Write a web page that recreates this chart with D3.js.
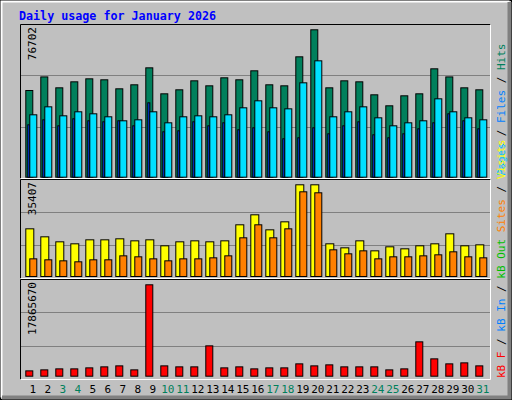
<!DOCTYPE html>
<html><head><meta charset="utf-8">
<script src="https://d3js.org/d3.v7.min.js"></script>
<style>body{margin:0;background:#fff}text{font-family:"DejaVu Sans Mono",monospace}</style>
</head><body><svg id="c" width="512" height="400"></svg>
<script>
const days = d3.range(1,32);
const weekend = [3,4,10,11,17,18,24,25,31];
const hits = [45110,52180,46510,49630,51190,50680,45990,48080,56910,43390,45470,50150,47550,51720,50680,55360,48080,47550,62640,76702,46510,50150,49630,42870,37150,42350,43390,56400,52180,46510,45470];
const files = [32470,36620,31940,34030,32990,31430,29350,29860,34030,28300,31430,31940,31430,32470,36110,39750,36110,35580,49110,60560,31430,34030,36620,30900,26740,28300,29350,40790,34030,30900,29860];
const pages = [27260,29860,26740,30390,29350,28820,29350,26740,38710,23620,24140,28820,26740,28300,24670,25700,23620,19980,20500,25700,22580,26740,28820,22060,20500,22580,25180,28300,32990,29350,25180];
const visits = [18410,15320,13390,12620,14160,14160,14550,13770,14160,11850,13390,13770,13390,13770,19960,23820,18020,21110,35407,35407,12620,11070,13770,9910,11460,10690,11850,12620,16480,11850,12230];
const sites = [6820,6440,6050,5670,6440,6440,7980,7600,6820,6050,6820,6820,7210,7980,14940,19960,14940,18410,32700,32320,10300,8760,9910,6820,7600,7600,7980,8370,9530,7600,7210];
const kbytes = [1043000,1239000,1434000,1434000,1630000,1826000,2021000,1239000,17865670,2021000,1826000,1826000,5933000,1630000,1826000,1434000,1630000,1630000,2413000,2021000,2217000,1826000,1826000,1826000,1239000,1434000,6716000,3391000,2413000,2608000,2021000];
const maxLabels = ["76702","35407","17865670"];

const svg = d3.select("#c");
// frame
svg.append("rect").attr("x",0.5).attr("y",0.5).attr("width",511).attr("height",399).attr("fill","#c0c0c0").attr("stroke","#000");
svg.append("path").attr("d","M1.5,397.5V1.5H509.5").attr("stroke","#fff").attr("stroke-width",2).attr("fill","none");
svg.append("path").attr("d","M2,397.5H509.5V2").attr("stroke","#808080").attr("stroke-width",4).attr("fill","none");
svg.append("text").attr("x",19).attr("y",20).attr("fill","#0000ff").attr("font-weight","bold").attr("font-size","11.7px").text("Daily usage for January 2026");

const x = d3.scaleBand().domain(days).range([22.3,487.3]).paddingInner(0).paddingOuter(0);
const panels = [{top:24,bot:178,base:176.7,maxTop:29.3,max:76702},
                {top:179,bot:278,base:276,maxTop:184.3,max:35407},
                {top:279,bot:379,base:375.7,maxTop:284.3,max:17865670}];
panels.forEach((p,i)=>{
  svg.append("rect").attr("x",20.5).attr("y",p.top+0.5).attr("width",470).attr("height",p.bot-p.top).attr("fill","#c0c0c0");
  const h=p.bot-p.top;
  [1,2].forEach(k=>svg.append("line").attr("x1",21).attr("x2",490).attr("y1",Math.round(p.top+h*k/3)+0.5).attr("y2",Math.round(p.top+h*k/3)+0.5).attr("stroke","#808080"));
  svg.append("path").attr("d",`M20.5,${p.bot+0.5}V${p.top+0.5}H490.5`).attr("stroke","#000").attr("fill","none");
  svg.append("path").attr("d",`M20.5,${p.bot+0.5}H490.5V${p.top+0.5}`).attr("stroke","#fff").attr("fill","none");
  p.y = d3.scaleLinear().domain([0,p.max]).range([p.base,p.maxTop]);
  svg.append("text").attr("transform",`translate(36,${p.top+3}) rotate(-90)`).attr("text-anchor","end").attr("font-size","11px").text(maxLabels[i]);
});
function bars(data,p,off,w,color){
  svg.append("g").selectAll("rect").data(data).join("rect")
   .attr("x",(d,i)=>x(days[i])+3+off+0.5).attr("width",w)
   .attr("y",d=>p.y(d)+0.5).attr("height",d=>p.base-p.y(d))
   .attr("fill",color).attr("stroke","#000");
}
bars(hits,panels[0],0,7,"#00805c");
bars(pages,panels[0],2,2,"#0040ff");
bars(files,panels[0],4,7,"#00e0ff");
bars(visits,panels[1],0,8,"#ffff00");
bars(sites,panels[1],4,7,"#ff8000");
bars(kbytes,panels[2],0,7,"#ff0000");

svg.append("g").selectAll("text").data(days).join("text")
  .attr("x",d=>x(d)+3+7.5).attr("y",393).attr("text-anchor","middle").attr("font-size","11px")
  .attr("fill",d=>weekend.includes(d)?"#00805c":"#000").text(d=>d);

function legend(yb,parts){
  const t=svg.append("text").attr("transform",`translate(505,${yb}) rotate(-90)`).attr("font-size","11px");
  parts.forEach(([s,c])=>t.append("tspan").attr("fill",c).text(s));
}
legend(176,[["Pages","#00c0ff"],[" / ","#000"],["Files","#0080ff"],[" / ","#000"],["Hits","#00805c"]]);
legend(378,[["kB F","#ff0000"],[" / ","#000"],["kB In","#0080ff"],[" / ","#000"],["kB Out","#00c000"],[" ","#000"],["Sites","#ff8000"],[" / ","#000"],["Visits","#ffff00"]]);
</script></body></html>
